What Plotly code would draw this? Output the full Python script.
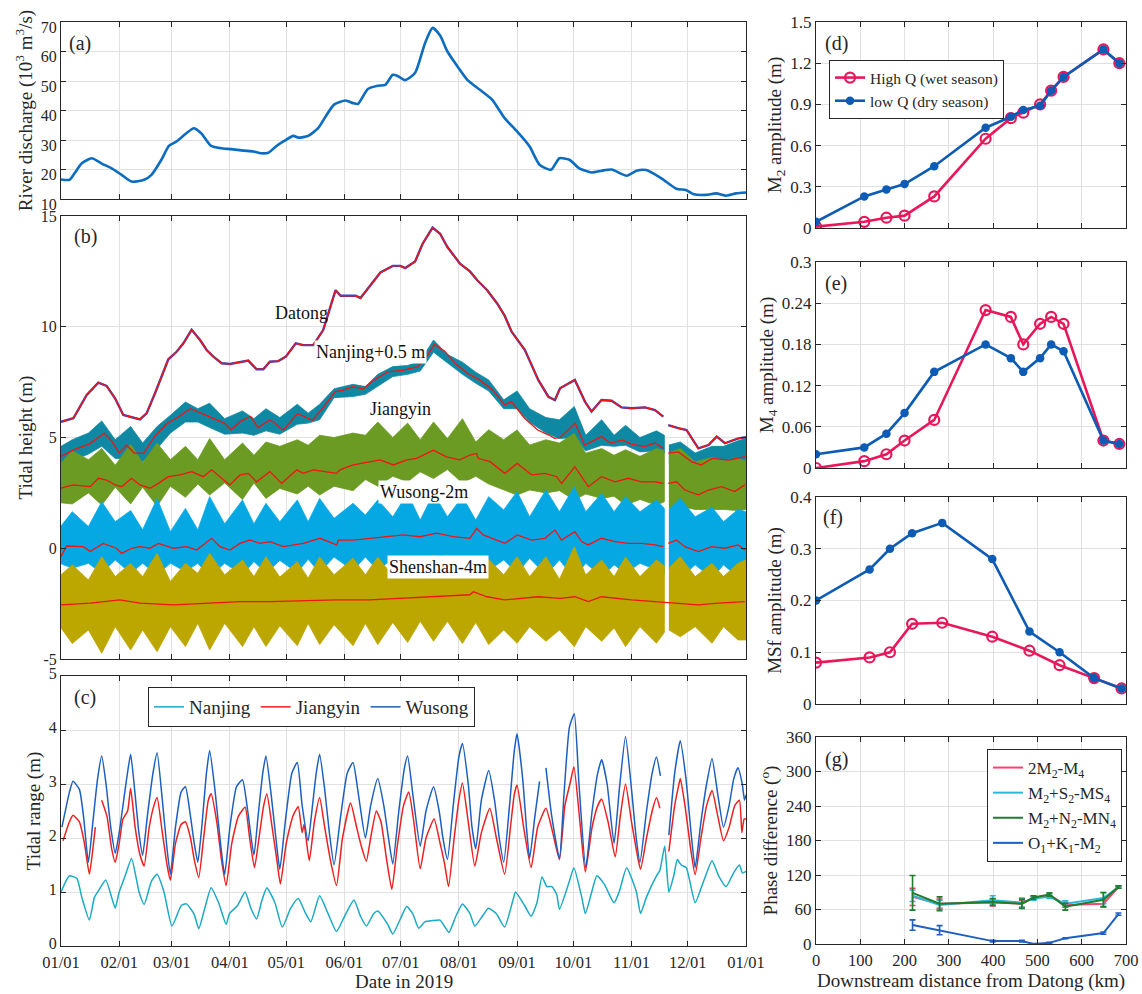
import pandas as pd
import plotly.graph_objects as go

SERIF = "Liberation Serif, Times New Roman, serif"
INK = "#262626"
BASE = pd.Timestamp("2019-01-01")

# ---------------- (a) river discharge at Datong (10^3 m^3/s) ----------------
Q_DAY = [0, 4.5, 7.2, 11.1, 16.4, 21.7, 27.0, 32.3, 37.6, 44.3, 48.2, 53.5, 57.5, 61.5, 66.8, 70.8, 74.7, 80.0,
         85.3, 90.6, 97.3, 102.6, 106.5, 110.5, 114.5, 118.5, 123.8, 126.4, 131.7, 137.0, 141.0, 145.5, 151.6,
         155.6, 158.2, 163.5, 168.8, 172.8, 176.8, 179.4, 183.4, 188.7, 194.0, 198.0, 202.0, 205.9, 211.2, 216.5,
         223.2, 229.8, 236.4, 243.0, 249.7, 255.0, 261.1, 265.6, 270.9, 276.2, 282.8, 288.1, 293.4, 301.4, 306.7,
         311.9, 319.9, 327.9, 333.2, 337.2, 343.8, 349.1, 354.4, 359.7, 365.0]
Q_VAL = [16.6, 16.5, 18.7, 22.1, 23.8, 22.0, 20.4, 18.2, 15.9, 16.5, 18.2, 23.3, 28.0, 29.5, 32.3, 34.0, 32.3, 28.0,
         27.2, 26.9, 26.4, 26.1, 25.5, 25.7, 27.8, 29.5, 31.4, 30.8, 31.4, 34.0, 38.0, 42.0, 43.4,
         42.5, 42.2, 47.3, 48.4, 48.7, 52.1, 51.7, 50.3, 52.8, 62.9, 68.0, 65.4, 60.0, 55.0, 50.4,
         47.0, 43.6, 37.4, 32.9, 27.8, 21.6, 19.9, 23.8, 23.3, 20.4, 19.0, 19.6, 20.0, 17.9, 19.6,
         19.8, 17.0, 13.5, 13.0, 11.6, 11.4, 11.9, 11.1, 11.9, 12.2]

# ---------------- (b) water levels (m) ----------------
DATONG_DAY = [0, 6.6, 13.7, 19.9, 24.3, 28.8, 33.2, 38.5, 42.1, 45.6, 50.1, 57.2, 61.6, 65.2, 69.6, 74.1, 77.6, 81.2,
              85.6, 90.0, 95.4, 99.8, 104.2, 107.8, 111.3, 115.8, 119.8, 125.1, 129.1, 134.4, 139.7, 143.7, 146.3,
              149.0, 156.9, 159.6, 164.9, 170.2, 176.8, 180.8, 183.4, 188.7, 192.7, 198.0, 202.0, 205.9, 212.6,
              217.9, 221.8, 227.1, 232.4, 236.4, 240.1, 247.2, 254.3, 259.7, 263.2, 265.9, 273.8, 279.2, 282.7,
              288.0, 293.4, 298.7, 304.0, 311.1, 316.5, 320.9, 322.2, 323.6, 328.9, 333.3, 339.6, 345.0, 349.4,
              353.8, 360.9, 365.0]
DATONG_H = [5.71, 5.87, 6.92, 7.48, 7.33, 6.77, 6.02, 5.91, 5.82, 6.09, 7.0, 8.53, 8.87, 9.25, 9.86, 9.4, 8.95, 8.65,
            8.35, 8.32, 8.4, 8.47, 8.08, 8.08, 8.42, 8.45, 8.65, 9.25, 9.17, 9.17, 9.85, 10.9, 11.65,
            11.4, 11.4, 11.3, 11.9, 12.45, 12.75, 12.75, 12.65, 12.95, 13.75, 14.48, 14.2, 13.6, 12.85,
            12.5, 12.1, 11.65, 11.05, 10.5, 9.78, 8.95, 7.6, 6.84, 6.69, 7.22, 7.6, 6.62, 6.17,
            6.69, 6.66, 6.36, 6.32, 6.36, 6.24, 5.94, None, 5.56, 5.42, 5.34, 4.51, 4.66, 5.04,
            4.74, 4.96, 5.01]

# spring / neap days at which the tidal envelopes are sampled (gap after 321.5)
ENV_DAY = [0, 6, 14.6, 21.7, 28.9, 37.1, 43.5, 51.2, 58.3, 66.3, 72.9, 79.2, 87.2, 96.7, 102.8, 109.2, 116.6,
           125.9, 131.7, 137.8, 145.5, 155.6, 162.2, 168.8, 176.8, 184.7, 191.4, 198.5, 205.9, 213.9, 221.0,
           227.9, 235.9, 243.0, 249.7, 258.4, 265.6, 273.5, 279.6, 288.1, 294.7, 300.8, 308.5, 317.3, 321.5,
           323.9, 330.0, 337.9, 346.9, 353.0, 360.7, 365]
ENV_GAP_AFTER = 321.5

NANJING_HI = [4.6, 4.9, 5.2, 5.75, 4.9, 5.5, 4.75, 5.5, 6.0, 6.6, 6.3, 6.55, 5.85, 6.2, 5.85, 6.3, 5.9,
              6.5, 6.1, 6.5, 7.2, 7.4, 7.3, 7.85, 8.2, 8.25, 8.45, 9.4, 8.75, 8.4, 7.95,
              7.6, 6.7, 7.1, 6.3, 5.9, 5.8, 6.4, 5.1, 5.8, 5.1, 5.55, 5.0, 5.3, 5.1,
              4.66, 4.8, 4.3, 4.6, 4.6, 4.85, 4.95]
NANJING_LO = [3.85, 3.95, 4.25, 4.6, 4.05, 4.05, 3.9, 4.5, 5.2, 5.7, 5.7, 5.45, 5.15, 5.2, 5.1, 5.3, 5.15,
              5.6, 5.65, 5.8, 6.8, 6.85, 6.95, 7.3, 7.75, 7.85, 8.0, 8.85, 8.35, 7.85, 7.45,
              7.1, 6.3, 6.3, 5.7, 5.2, 4.95, 5.0, 4.4, 4.65, 4.6, 4.65, 4.35, 4.4, 4.3,
              3.84, 3.85, 3.4, 3.7, 3.85, 3.9, 3.95]
JIANGYIN_HI = [3.85, 4.4, 4.0, 4.5, 3.75, 4.7, 3.85, 4.75, 4.0, 4.6, 4.0, 4.95, 4.0, 4.75, 4.2, 4.8, 4.6,
               4.9, 4.65, 5.1, 5.0, 5.2, 5.1, 5.7, 5.0, 5.65, 4.9, 5.7, 4.95, 5.85, 4.8,
               5.35, 4.9, 5.34, 4.66, 4.9, 4.75, 5.19, 4.29, 4.5, 4.2, 4.45, 4.15, 4.5, 4.4,
               4.3, 4.5, 3.9, 4.1, 3.95, 4.05, 3.95]
JIANGYIN_LO = [2.05, 2.0, 2.5, 1.95, 2.75, 2.0, 2.75, 1.9, 2.8, 2.3, 2.9, 2.4, 2.95, 2.2, 2.95, 2.25, 2.7,
               2.45, 2.8, 2.4, 2.8, 2.6, 3.1, 2.8, 3.25, 3.0, 3.45, 3.15, 3.55, 2.95, 3.25,
               2.9, 2.65, 2.4, 2.63, 2.5, 2.6, 2.18, 2.45, 2.25, 2.35, 1.95, 2.2, 1.95, 2.1,
               1.8, 1.9, 1.75, 1.75, 1.75, 1.7, 1.75]
WUSONG_HI = [1.0, 1.65, 0.98, 2.1, 1.2, 1.7, 0.83, 2.25, 0.75, 1.8, 0.83, 2.33, 1.1, 2.18, 1.1, 2.03, 1.2,
             2.18, 1.2, 2.25, 1.35, 2.03, 1.5, 2.18, 1.42, 2.48, 1.27, 2.48, 1.42, 2.33, 1.27,
             2.33, 1.73, 2.56, 1.42, 2.63, 1.65, 2.78, 1.65, 2.48, 1.65, 2.33, 1.65, 2.18, 1.8,
             1.75, 2.25, 1.42, 1.85, 1.2, 1.75, 1.65]
WUSONG_LO = [-0.7, -0.9, -0.68, -1.13, -0.53, -1.13, -0.68, -1.2, -0.68, -1.05, -0.68, -1.28, -0.68, -1.2, -0.6,
             -1.13, -0.55, -1.1, -0.5, -1.1, -0.4, -1.0, -0.4, -1.0, -0.45, -0.9, -0.35, -0.9, -0.3, -1.0,
             -0.4, -1.0, -0.53, -1.13, -0.45, -1.2, -0.53, -1.35, -0.68, -1.28, -0.75, -1.13, -0.68, -0.98,
             -1.2, -0.9, -1.35, -0.75, -1.35, -0.75, -1.3, -1.2]
SHENSHAN_HI = [-1.2, -0.75, -1.43, -0.38, -1.28, -0.68, -1.28, -0.23, -1.5, -0.68, -1.13, -0.23, -1.2, -0.53, -1.28,
               -0.38, -1.3, -0.6, -1.35, -0.4, -1.2, -0.45, -1.2, -0.4, -1.25, -0.5, -1.2, -0.3, -1.15, -0.35,
               -1.2, -0.5, -1.2, -0.38, -1.28, -0.38, -1.4, 0.07, -1.2, -0.53, -1.28, -0.4, -1.28, -0.53,
               -0.8, -0.9, -0.38, -1.28, -0.68, -1.28, -0.68, -0.53]
SHENSHAN_LO = [-3.6, -4.3, -3.69, -4.74, -3.54, -4.59, -3.69, -4.67, -3.54, -4.44, -3.39, -4.59, -3.39, -4.44, -3.54,
               -4.44, -3.5, -4.4, -3.4, -4.35, -3.45, -4.4, -3.4, -4.35, -3.35, -4.25, -3.3, -4.2, -3.3, -4.3,
               -3.35, -4.35, -3.69, -4.29, -3.54, -4.2, -3.69, -4.44, -3.54, -4.2, -3.6, -4.44, -3.54, -4.29,
               -3.8, -3.69, -4.0, -3.54, -4.29, -3.54, -4.14, -4.14]

# tidally averaged levels (red curves)
NANJING_MEAN_DAY = [0, 7, 15, 23, 27, 31, 35, 39, 44, 50, 56, 62, 69, 76, 81, 87, 90.5, 96, 101, 105, 111.5,
                    118.5, 126, 134, 140, 146, 150, 155.5, 161, 166, 174, 182, 190, 194, 199, 204.5, 210,
                    216.5, 223, 230, 236.5, 240, 247, 254, 260, 263, 266, 274, 279, 288, 293, 299, 304, 311,
                    316.5, 321, 322.3, 323.6, 329, 336, 341, 347, 356, 364.4]
NANJING_MEAN = [4.15, 4.45, 4.7, 5.19, 4.85, 4.3, 4.65, 4.3, 4.28, 5.05, 5.6, 5.9, 6.3, 6.05, 5.9, 5.65, 5.35,
                5.75, 5.95, 5.45, 5.8, 5.33, 6.08, 5.78, 6.38, 7.06, 7.13, 7.3, 7.2, 7.55, 7.96, 8.03, 8.2,
                8.55, 9.2, 8.9, 8.35, 7.9, 7.6, 7.15, 6.47, 6.62, 5.87, 5.34, 5.11, 4.96, 5.0, 5.64, 4.66,
                5.04, 4.74, 4.89, 4.7, 4.59, 4.75, 4.51, None, 4.29, 4.35, 3.91, 3.76, 4.06, 3.98, 4.14]
JIANGYIN_MEAN_DAY = [0, 6.6, 15.5, 19.9, 24.3, 28.8, 32.3, 37.6, 42.1, 47.4, 51.9, 57.2, 63.4, 69.6, 75.8, 80.3,
                     85.6, 90.0, 95.4, 99.8, 104.2, 111.3, 117.6, 125.6, 129.1, 134.4, 146.9, 148.6, 155.7,
                     164.6, 170.0, 177.1, 184.2, 189.5, 198.4, 205.4, 212.5, 217.9, 221.5, 222.3, 225.0,
                     228.6, 236.5, 243.1, 250.8, 257.9, 264.1, 266.7, 273.8, 281.0, 288.0, 295.2, 302.3,
                     309.4, 316.5, 320.9, 322.2, 323.6, 328.0, 332.4, 339.6, 345.0, 352.0, 358.9, 364.4]
JIANGYIN_MEAN = [2.71, 2.86, 2.78, 3.16, 3.08, 2.86, 2.78, 3.16, 2.86, 2.71, 2.93, 3.23, 3.31, 3.46, 3.23, 3.54,
                 3.16, 2.86, 3.31, 3.38, 3.0, 3.46, 2.93, 3.54, 3.38, 3.54, 3.38, 3.54, 3.76,
                 3.91, 3.99, 3.76, 3.99, 4.06, 4.43, 4.13, 3.99, 4.21, 4.28, 4.06, 3.99,
                 3.91, 3.38, 3.83, 3.31, 3.38, 3.23, 2.93, 3.68, 2.78, 3.23, 3.0, 3.16,
                 3.0, 3.0, 2.93, None, 2.93, 3.0, 2.63, 2.41, 2.63, 2.78, 2.56, 2.86]
WUSONG_MEAN_DAY = [0, 3, 11.9, 15.5, 22.5, 29.6, 32.3, 37.6, 42.1, 47.4, 51.9, 59.9, 67.0, 72.3, 80.3, 84.7, 90.0,
                   95.4, 100.7, 106.0, 111.3, 118.5, 129.1, 138.0, 146.9, 147.8, 155.7, 164.6, 173.5, 182.4,
                   191.3, 200.1, 209.0, 217.9, 221.5, 225.0, 236.5, 243.1, 250.8, 257.9, 263.2, 266.7,
                   273.8, 277.4, 280.9, 288.0, 295.2, 302.3, 309.4, 316.5, 320.9, 322.2, 323.6, 328.0,
                   332.4, 339.6, 346.6, 353.7, 360.9, 364.4]
WUSONG_MEAN = [-0.38, 0.1, 0.07, -0.15, 0.22, 0.0, -0.23, 0.0, 0.07, 0.0, 0.22, 0.0, 0.07, -0.08, 0.45, 0.07, -0.08,
               0.22, 0.37, 0.22, 0.3, 0.07, 0.22, 0.45, 0.15, 0.37, 0.37, 0.45, 0.52, 0.6,
               0.52, 0.68, 0.52, 0.45, 0.9, 0.6, 0.22, 0.6, 0.37, 0.45, 0.83, 0.37,
               0.75, 0.3, 0.15, 0.45, 0.3, 0.22, 0.22, 0.15, 0.07, None, 0.22, 0.37,
               0.07, -0.15, 0.07, 0.0, 0.15, -0.08]
SHENSHAN_MEAN_DAY = [0, 15.5, 31.4, 42.1, 59.9, 77.6, 95.4, 111.3, 146.9, 164.6, 182.4, 200.1, 217.9, 219.7,
                     227.0, 236.5, 254.3, 265.9, 273.8, 281.0, 288.0, 304.0, 318.4, 325.6, 339.6, 350.2, 364.4]
SHENSHAN_MEAN = [-2.56, -2.48, -2.33, -2.48, -2.56, -2.48, -2.41, -2.41, -2.33, -2.33, -2.26, -2.19, -2.1, -1.96,
                 -2.19, -2.33, -2.19, -2.26, -2.19, -2.41, -2.19, -2.33, -2.41, -2.48, -2.56, -2.48, -2.41]

# ---------------- (c) tidal range (m) ----------------
RANGE_WS_DAY = [0.5, 4.5, 6.4, 9.8, 12, 14.6, 17, 19.5, 21.7, 24, 26.5, 28.9, 31, 35.0, 37.1, 39.5, 41.5, 43.5,
                46, 49, 51.2, 54, 56.5, 58.3, 61, 64, 66.3, 69, 71, 72.9, 75, 77.5, 79.2, 82, 85, 87.2, 90,
                93.5, 96.7, 99.5, 102.8, 105, 107.5, 109.2, 112, 114.5, 116.6, 119.5, 123, 125.9, 128.5,
                131.7, 134, 136, 137.8, 140.5, 143, 145.5, 149, 152.5, 155.6, 158.5, 162.2, 165, 168.8,
                172, 174.5, 176.8, 180, 183, 184.7, 187.5, 191.4, 194.5, 198.5, 201.5, 203.5, 205.9, 209,
                212, 213.9, 217, 219, 221.0, 224, 227.9, 231, 233.5, 235.9, 239, 241.5, 243.0, 246, 248,
                249.7, 252.5, 255.0, 256.7, 258.4, 261.5, 265.6, 268, 270.9, 273.5, 276, 279.6, 283, 286,
                288.1, 291, 294.7, 297.5, 300.8, 304, 306.5, 308.5, 312, 315, 317.3, 319.4, 321.6, 323.9,
                327, 330.0, 333, 336, 337.9, 341, 344, 346.9, 350, 353.0, 356, 358.5, 360.7, 363, 364.2, 365]
RANGE_WS = [2.2, 2.85, 3.05, 2.9, 2.4, 1.55, 2.3, 3.1, 3.52, 3.0, 2.2, 1.72, 2.1, 3.1, 3.55, 2.8, 2.1, 1.68,
            2.4, 3.2, 3.58, 2.7, 1.8, 1.33, 2.2, 2.85, 2.95, 2.4, 1.9, 1.55, 2.2, 3.2, 3.62, 2.9, 1.9, 1.32, 2.2,
            2.95, 3.08, 2.5, 1.68, 2.4, 3.2, 3.52, 2.8, 2.0, 1.42, 2.3, 3.2, 3.40, 2.6,
            1.95, 2.6, 3.2, 3.55, 2.9, 2.1, 1.5, 2.4, 3.2, 3.40, 2.8, 2.0, 2.6, 3.10,
            2.6, 2.0, 1.52, 2.5, 3.3, 3.52, 2.8, 1.85, 2.5, 2.95, 2.5, 2.0, 1.6, 2.6,
            3.5, 3.75, 3.0, 2.2, 1.8, 2.7, 3.25, 2.7, 2.0, 1.55, 2.6, 3.6, 3.93, 3.1, 2.2,
            1.62, 2.4, 3.05, None, 3.3, 2.4, 1.62, 2.8, 4.05, 4.3, 3.0, 1.45, 2.5, 3.2,
            3.45, 3.0, 1.9, 2.9, 3.88, 2.9, 2.0, 1.55, 2.5, 3.2, 3.5, 3.15, None, 2.05,
            3.2, 3.80, 3.1, 2.0, 1.45, 2.3, 3.0, 3.47, 2.8, 2.2, 2.6, 3.1, 3.3, 3.0, 2.7, 2.8]
RANGE_JY_DAY = [1.1, 4.5, 6.4, 9.8, 12.5, 15.1, 17, 18.3, 20.0, 21.7, 24.5, 27, 28.9, 31, 33, 35.5, 37.1, 39.5, 42,
                44.3, 47, 49.5, 51.2, 54, 56.5, 58.3, 61, 64, 66.3, 69, 71, 73.4, 76, 78.5, 80, 83, 85.5, 88,
                91, 94.5, 98.1, 100.5, 103.1, 105.5, 108, 109.7, 112.5, 115, 116.9, 120, 123.5, 126.4, 128.5,
                129.5, 132.3, 135, 137.8, 140.5, 143.5, 146.8, 150, 154.3, 157.5, 160, 162.7, 165, 168, 170.5,
                173.5, 176.3, 179, 182.5, 185.3, 188, 191.4, 194.5, 198.8, 202, 204.5, 206.5, 209.5, 212,
                213.9, 217, 220.5, 224, 228.5, 232, 236.4, 239.5, 241.5, 243.0, 246.5, 250.5, 254, 258.4,
                262, 265.6, 268.5, 271.5, 273.3, 276.5, 279.4, 283, 286, 288.1, 291.5, 295.3, 298, 300.8,
                304, 306.5, 308.8, 312, 315, 317.3, 319.1, 321.5, 323.9, 327, 329, 330.0, 332.5, 335.5,
                337.9, 341, 344, 346.9, 350, 353.0, 356, 359, 361.5, 362.8, 364, 365]
RANGE_JY = [1.95, 2.3, 2.42, 2.3, 1.9, 1.33, 1.8, 2.2, None, 2.7, 2.4, 1.8, 1.55, 1.9, 2.35, 2.5, 2.92, 2.2, 1.7,
            1.48, 2.2, 2.6, 2.75, 2.1, 1.5, 1.22, 1.9, 2.25, 2.3, 2.0, 1.6, 1.27, 2.0, 2.7, 2.82, 2.3, 1.6, 1.12,
            1.9, 2.4, 2.57, 2.0, 1.45, 2.0, 2.6, 2.82, 2.2, 1.6, 1.15, 1.9, 2.4, 2.58, 2.1,
            2.25, 1.58, 2.3, 2.75, 2.2, 1.6, 1.12, 2.0, 2.65, 2.2, 1.85, 1.57, 2.0, 2.5, 2.3,
            1.6, 1.05, 1.8, 2.6, 2.85, 2.3, 1.43, 2.0, 2.35, 1.9, 1.5, 1.1, 2.0, 2.7,
            3.02, 2.3, 1.48, 2.1, 2.55, 2.0, 1.33, 2.2, 2.8, 2.98, 2.2, 1.45, 2.2, 2.55,
            2.1, 1.6, 2.6, 3.05, 3.32, 2.3, 1.37, 2.2, 2.6, 2.72, 2.3, 1.65, 2.4, 3.0,
            2.3, 1.8, 1.42, 2.0, 2.5, 2.75, 2.55, None, 1.75, 2.6, 2.95, 3.1, 2.6, 1.8,
            1.32, 2.0, 2.6, 2.88, 2.4, 1.95, 2.2, 2.6, 2.7, 2.1, 2.35, 2.35]
RANGE_NJ_DAY = [0, 4.5, 8.5, 11.1, 15.1, 17.8, 20.4, 23.9, 27.0, 28.9, 31.0, 34.2, 37.6, 41.6, 44.3, 48.2, 51.2,
                54.9, 59.1, 64.1, 66.8, 70.8, 73.4, 76.6, 80.0, 84.0, 88.0, 89.8, 94.1, 98.1, 101.2, 104.2,
                107.1, 109.7, 114.0, 117.9, 122.4, 126.4, 130.4, 133.1, 137.8, 142.3, 146.8, 151.1, 156.1,
                159.6, 162.7, 166.7, 168.8, 174.1, 176.8, 180.8, 184.2, 187.4, 190.6, 194.0, 198.0, 202.0,
                204.6, 206.7, 210.4, 213.9, 217.9, 220.5, 224.5, 227.7, 231.9, 236.4, 241.2, 242.2, 247.0,
                250.5, 253.6, 256.3, 258.9, 261.6, 264.2, 265.6, 270.9, 273.3, 277.5, 279.4, 282.8, 285.5,
                289.4, 294.7, 297.4, 301.4, 306.6, 308.8, 311.9, 317.3, 319.1, 321.7, 323.9, 326.5, 328.4,
                330.5, 333.2, 337.9, 342.4, 346.9, 350.4, 354.4, 358.3, 361.5, 363.1, 365.0]
RANGE_NJ = [1.0, 1.3, 1.25, 0.9, 0.48, 0.9, 1.05, 1.22, 0.9, 0.7, 1.0, 1.3, 1.62, 1.0, 0.77, 1.2, 1.33,
            1.0, 0.37, 0.75, 0.78, 0.6, 0.32, 0.7, 1.08, 0.8, 0.4, 0.6, 0.75, 1.0, 0.7, 0.5,
            0.85, 1.08, 0.8, 0.35, 0.7, 0.88, 0.6, 0.45, 0.93, 0.6, 0.27, 0.55, 0.85,
            0.55, 0.37, 0.6, 0.65, 0.4, 0.22, 0.5, 0.73, 0.6, 0.33, 0.45, 0.47, 0.48,
            0.35, 0.25, 0.55, 0.78, 0.6, 0.37, 0.55, 0.7, 0.6, 0.35, 0.9, 1.0, 0.75,
            0.55, 0.8, 1.28, 1.1, 1.1, 0.95, 0.68, 1.2, 1.45, 0.9, 0.6, 1.0, 1.3,
            1.15, 0.8, 1.0, 1.45, 1.0, 0.6, 0.9, 1.3, 1.4, 1.85, 1.0, 1.3, 1.6,
            1.5, 1.45, 0.8, 1.2, 1.58, 1.3, 1.1, 1.35, 1.5, 1.35, 1.38]

# ---------------- (d)-(f) harmonic amplitudes along the estuary ----------------
DIST_DE = [0, 109, 159, 200, 267, 383, 440, 468, 506, 531, 559, 649, 685]
M2_HIGHQ = [0.01, 0.045, 0.075, 0.09, 0.23, 0.65, 0.80, 0.84, 0.90, 1.0, 1.10, 1.30, 1.20]
M2_LOWQ = [0.045, 0.23, 0.28, 0.32, 0.45, 0.73, 0.81, 0.86, 0.89, 1.0, 1.10, 1.30, 1.20]
M4_HIGHQ = [0.0, 0.01, 0.02, 0.04, 0.07, 0.23, 0.22, 0.18, 0.21, 0.22, 0.21, 0.04, 0.035]
M4_LOWQ = [0.02, 0.03, 0.05, 0.08, 0.14, 0.18, 0.16, 0.14, 0.16, 0.18, 0.17, 0.04, 0.035]
DIST_F = [0, 121, 167, 217, 285, 398, 482, 550, 628, 690]
MSF_HIGHQ = [0.08, 0.09, 0.10, 0.155, 0.157, 0.13, 0.103, 0.075, 0.05, 0.03]
MSF_LOWQ = [0.20, 0.26, 0.30, 0.33, 0.35, 0.28, 0.14, 0.10, 0.05, 0.03]

# ---------------- (g) phase differences (deg) ----------------
DIST_G = [218, 279, 399, 465, 491, 527, 563, 649, 683]
PH_2M2_M4 = [82, 70, 72, 70, 80, 85, 68, 70, 99]
ER_2M2_M4 = [15, 8, 6, 6, 3, 3, 4, 6, 2]
PH_M2S2_MS4 = [84, 68, 76, 72, 79, 82, 70, 80, 99]
ER_M2S2_MS4 = [10, 8, 8, 8, 3, 3, 5, 10, 2]
PH_M2N2_MN4 = [89, 70, 73, 70, 81, 86, 65, 77, 99]
ER_M2N2_MN4 = [30, 12, 6, 8, 3, 3, 6, 12, 2]
PH_O1K1_M2 = [33, 24, 5, 5, 0, 2, 10, 19, 52]
ER_O1K1_M2 = [9, 8, 1.5, 1.5, 1, 1, 1, 2, 2]

MONTH_TICKS = pd.date_range("2019-01-01", "2020-01-01", freq="MS")


def dates(days):
    return [BASE + pd.Timedelta(days=float(d)) for d in days]


def band_polygon(days, hi, lo, gap_after):
    """Closed outline of an envelope, split into separate shapes at a data gap."""
    segs, cur = [], []
    for d, h, l in zip(days, hi, lo):
        cur.append((d, h, l))
        if d == gap_after:
            segs.append(cur)
            cur = []
    if cur:
        segs.append(cur)
    xs, ys = [], []
    for seg in segs:
        ds = [s[0] for s in seg]
        xs += dates(ds) + dates(ds[::-1]) + [None]
        ys += [s[1] for s in seg] + [s[2] for s in seg][::-1] + [None]
    return xs, ys


fig = go.Figure()

# (a)
fig.add_trace(go.Scatter(x=dates(Q_DAY), y=Q_VAL, mode="lines",
                         line=dict(color="#0b6cc0", width=2.6, shape="spline", smoothing=0.6),
                         showlegend=False, xaxis="x", yaxis="y"))

# (b) envelopes
BANDS = [(NANJING_HI, NANJING_LO, "#0f88a3"), (JIANGYIN_HI, JIANGYIN_LO, "#6b9b22"),
         (WUSONG_HI, WUSONG_LO, "#06a8e4"), (SHENSHAN_HI, SHENSHAN_LO, "#bca600")]
for hi, lo, col in BANDS:
    bx, by = band_polygon(ENV_DAY, hi, lo, ENV_GAP_AFTER)
    fig.add_trace(go.Scatter(x=bx, y=by, mode="lines", fill="toself", fillcolor=col,
                             line=dict(color=col, width=0.8),
                             showlegend=False, hoverinfo="skip", xaxis="x2", yaxis="y2"))

for d, v in [(NANJING_MEAN_DAY, NANJING_MEAN), (JIANGYIN_MEAN_DAY, JIANGYIN_MEAN),
             (WUSONG_MEAN_DAY, WUSONG_MEAN), (SHENSHAN_MEAN_DAY, SHENSHAN_MEAN)]:
    fig.add_trace(go.Scatter(x=dates(d), y=v, mode="lines", line=dict(color="#f01414", width=1.3),
                             showlegend=False, xaxis="x2", yaxis="y2"))

fig.add_trace(go.Scatter(x=dates(DATONG_DAY), y=DATONG_H, mode="lines", line=dict(color="#2a47c8", width=2.4),
                         showlegend=False, xaxis="x2", yaxis="y2"))
fig.add_trace(go.Scatter(x=dates(DATONG_DAY), y=DATONG_H, mode="lines", line=dict(color="#f01414", width=1.5),
                         showlegend=False, xaxis="x2", yaxis="y2"))

# (c)
for d, v, name, col in [(RANGE_NJ_DAY, RANGE_NJ, "Nanjing", "#1aaac2"),
                        (RANGE_JY_DAY, RANGE_JY, "Jiangyin", "#ec2020"),
                        (RANGE_WS_DAY, RANGE_WS, "Wusong", "#1c5fbf")]:
    fig.add_trace(go.Scatter(x=dates(d), y=v, mode="lines", name=name,
                             line=dict(color=col, width=1.5, shape="spline", smoothing=0.5),
                             legend="legend", xaxis="x3", yaxis="y3"))

# (d)-(f)
RED = "#e8175a"
BLUE = "#0c5bb4"
for ax, xs, hv, lv, show in [("4", DIST_DE, M2_HIGHQ, M2_LOWQ, True), ("5", DIST_DE, M4_HIGHQ, M4_LOWQ, False),
                             ("6", DIST_F, MSF_HIGHQ, MSF_LOWQ, False)]:
    fig.add_trace(go.Scatter(x=xs, y=hv, mode="lines+markers", name="High Q (wet season)",
                             line=dict(color=RED, width=2.6),
                             marker=dict(symbol="circle-open", size=10, color=RED, line=dict(width=2.2)),
                             showlegend=show, legend="legend2", xaxis="x" + ax, yaxis="y" + ax))
    fig.add_trace(go.Scatter(x=xs, y=lv, mode="lines+markers", name="low Q (dry season)",
                             line=dict(color=BLUE, width=2.6),
                             marker=dict(symbol="circle", size=8.5, color=BLUE),
                             showlegend=show, legend="legend2", xaxis="x" + ax, yaxis="y" + ax))

# (g)
for v, e, name, col in [(PH_2M2_M4, ER_2M2_M4, "2M<sub>2</sub>-M<sub>4</sub>", "#ff3f70"),
                        (PH_M2S2_MS4, ER_M2S2_MS4, "M<sub>2</sub>+S<sub>2</sub>-MS<sub>4</sub>", "#2cb6d9"),
                        (PH_M2N2_MN4, ER_M2N2_MN4, "M<sub>2</sub>+N<sub>2</sub>-MN<sub>4</sub>", "#1f7d2c"),
                        (PH_O1K1_M2, ER_O1K1_M2, "O<sub>1</sub>+K<sub>1</sub>-M<sub>2</sub>", "#1f5fc0")]:
    fig.add_trace(go.Scatter(x=DIST_G, y=v, mode="lines", name=name, line=dict(color=col, width=2),
                             error_y=dict(type="data", array=e, color=col, thickness=1.6, width=3),
                             legend="legend3", xaxis="x7", yaxis="y7"))

LX = [61 / 1142, 746 / 1142]
RX = [816 / 1142, 1126 / 1142]


def ydom(top, bottom):
    return [1 - bottom / 994, 1 - top / 994]


def axis(size=17, **kw):
    base = dict(showline=True, linecolor=INK, linewidth=1, mirror="ticks", ticks="inside", ticklen=5,
                tickcolor=INK, showgrid=True, gridcolor="#e1e1e1", gridwidth=1, zeroline=False,
                automargin=False, tickfont=dict(family=SERIF, size=size, color=INK))
    base.update(kw)
    return base


def ytitle(text):
    return dict(text=text, font=dict(family=SERIF, size=19, color=INK), standoff=3)


date_ax = dict(type="date", range=["2019-01-01", "2020-01-01"], tickvals=list(MONTH_TICKS), tickformat="%m/%d")

layout = dict(
    width=1142, height=994, margin=dict(l=0, r=0, t=0, b=0, autoexpand=False),
    paper_bgcolor="white", plot_bgcolor="white",
    font=dict(family=SERIF, color=INK),
    xaxis=axis(domain=LX, anchor="y", showticklabels=False, **date_ax),
    yaxis=axis(size=16, domain=ydom(22, 199), anchor="x", range=[10, 70], dtick=10, ticklabelshift=5,
               title=ytitle("River discharge (10<sup>3</sup> m<sup>3</sup>/s)")),
    xaxis2=axis(domain=LX, anchor="y2", showticklabels=False, **date_ax),
    yaxis2=axis(size=16, domain=ydom(216, 659), anchor="x2", range=[-5, 15], tickvals=[-5, 0, 5, 10, 15],
                ticktext=["-5", "0", "5", "10", "15"], title=ytitle("Tidal height (m)")),
    xaxis3=axis(size=16.5, domain=LX, anchor="y3", ticklabelstandoff=1, **date_ax),
    yaxis3=axis(size=16, domain=ydom(676, 946), anchor="x3", range=[0, 5], dtick=1, ticklabelshift=-3,
                title=ytitle("Tidal range (m)")),
    xaxis4=axis(domain=RX, anchor="y4", range=[0, 700], dtick=100, showticklabels=False),
    yaxis4=axis(domain=ydom(22, 228), anchor="x4", range=[0, 1.5], dtick=0.3,
                title=ytitle("M<sub>2</sub> amplitude (m)")),
    xaxis5=axis(domain=RX, anchor="y5", range=[0, 700], dtick=100, showticklabels=False),
    yaxis5=axis(domain=ydom(262, 468), anchor="x5", range=[0, 0.3], tickvals=[0, 0.06, 0.12, 0.18, 0.24, 0.3],
                ticktext=["0", "0.06", "0.12", "0.18", "0.24", "0.3"],
                title=ytitle("M<sub>4</sub> amplitude (m)")),
    xaxis6=axis(domain=RX, anchor="y6", range=[0, 700], dtick=100, showticklabels=False),
    yaxis6=axis(domain=ydom(497, 704), anchor="x6", range=[0, 0.4], dtick=0.1,
                title=ytitle("MSf amplitude (m)")),
    xaxis7=axis(size=16.5, domain=RX, anchor="y7", range=[0, 700], dtick=100, ticklabelstandoff=1),
    yaxis7=axis(domain=ydom(737, 944), anchor="x7", range=[0, 360], dtick=60,
                title=ytitle("Phase difference (<sup>o</sup>)")),
    legend=dict(x=148 / 1142, y=1 - 687 / 994, xanchor="left", yanchor="top", orientation="h",
                bgcolor="white", bordercolor=INK, borderwidth=1, font=dict(family=SERIF, size=19, color=INK)),
    legend2=dict(x=829 / 1142, y=1 - 60 / 994, xanchor="left", yanchor="top", tracegroupgap=0,
                 bgcolor="white", bordercolor=INK, borderwidth=1, font=dict(family=SERIF, size=15.5, color=INK)),
    legend3=dict(x=1122 / 1142, y=1 - 749 / 994, xanchor="right", yanchor="top", tracegroupgap=0,
                 bgcolor="white", bordercolor=INK, borderwidth=1, font=dict(family=SERIF, size=17, color=INK)),
)
fig.update_layout(**layout)

# x-axis titles placed directly under the bottom panels
for xc, lab in [((LX[0] + LX[1]) / 2, "Date in 2019"), ((RX[0] + RX[1]) / 2, "Downstream distance from Datong (km)")]:
    fig.add_annotation(x=xc, y=0.0005, xref="paper", yref="paper", text=lab, showarrow=False,
                       xanchor="center", yanchor="bottom", font=dict(family=SERIF, size=19, color=INK))

# panel letters
for ax, xf, yf, lab in [("", 0.009, 0.881, "(a)"), ("2", 0.016, 0.953, "(b)"), ("3", 0.016, 0.922, "(c)"),
                        ("4", 0.023, 0.898, "(d)"), ("5", 0.023, 0.898, "(e)"), ("6", 0.016, 0.899, "(f)"),
                        ("7", 0.023, 0.889, "(g)")]:
    fig.add_annotation(x=xf, y=yf, xref=f"x{ax} domain", yref=f"y{ax} domain", text=lab, showarrow=False,
                       xanchor="left", yanchor="middle", font=dict(family=SERIF, size=20, color=INK))

# station labels in (b)
for day, val, lab, bg in [(127.9, 10.62, "Datong", None), (165, 8.88, "Nanjing+0.5 m", "white"),
                          (180.9, 6.29, "Jiangyin", "white"), (193.5, 2.54, "Wusong-2m", "white"),
                          (200.7, -0.84, "Shenshan-4m", "white")]:
    fig.add_annotation(x=BASE + pd.Timedelta(days=day), y=val, xref="x2", yref="y2", text=lab, showarrow=False,
                       bgcolor=bg, borderpad=1, font=dict(family=SERIF, size=18, color="#111111"))

fig.write_html("out.html")
